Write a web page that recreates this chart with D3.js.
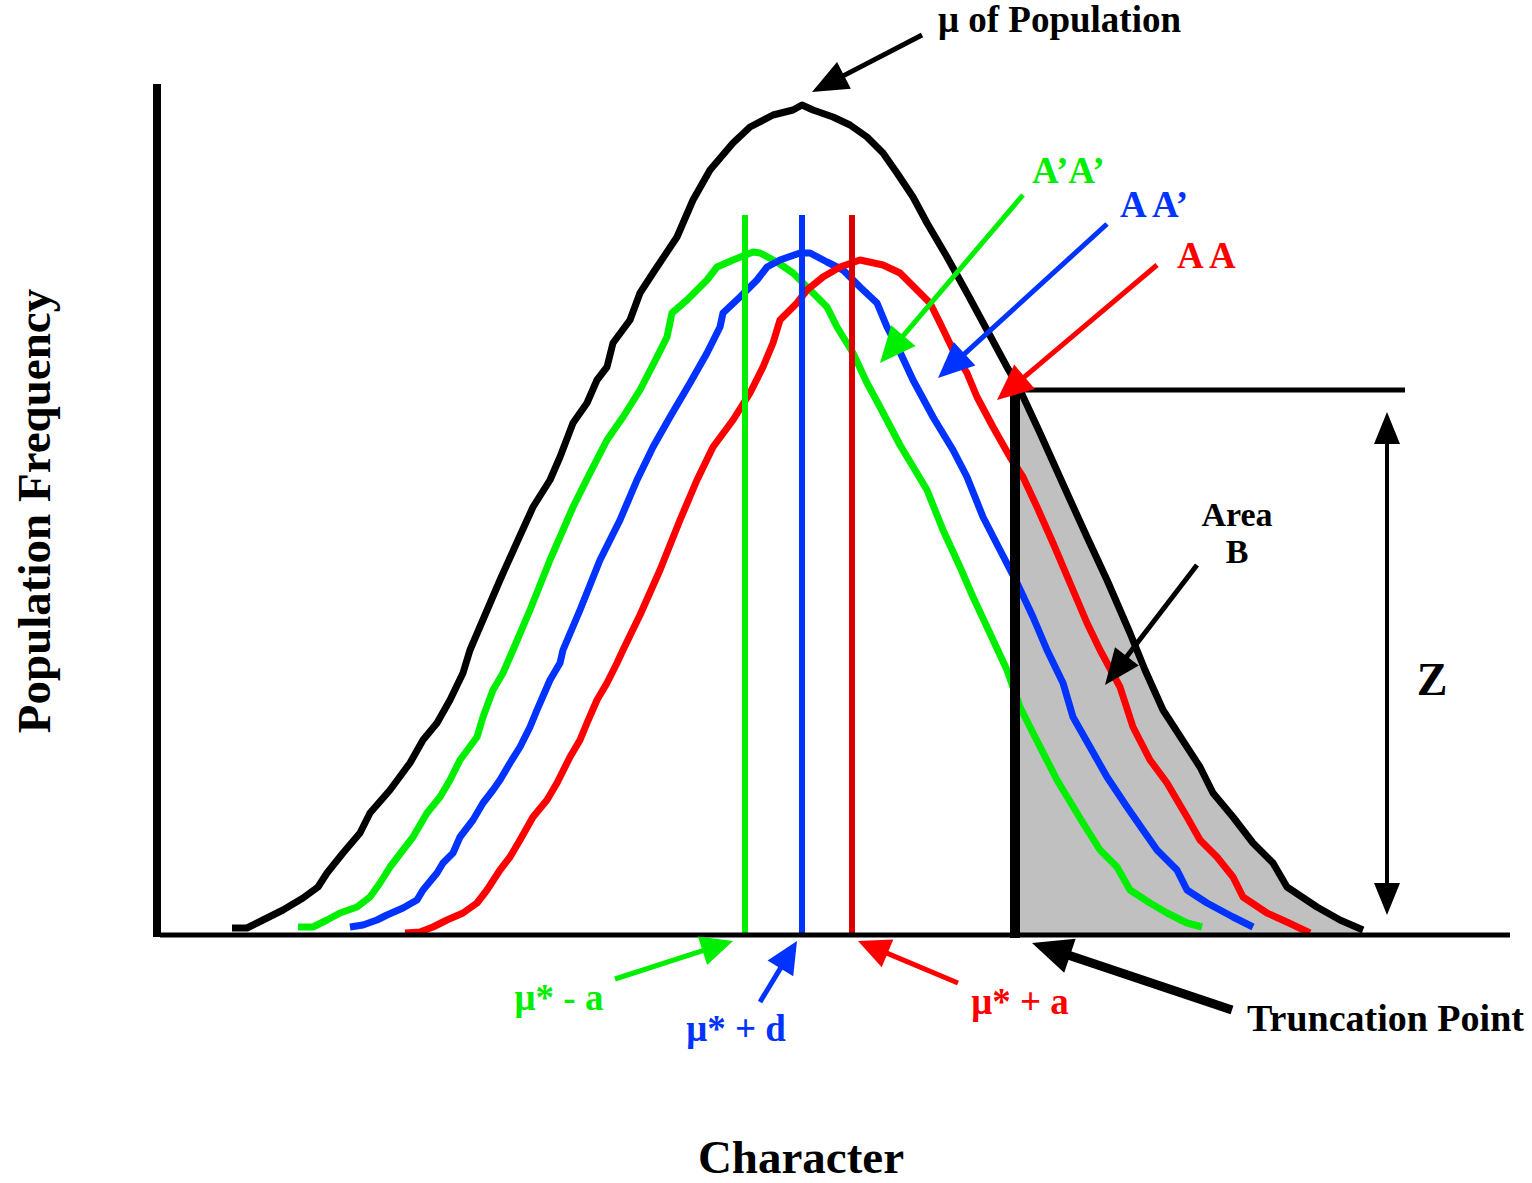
<!DOCTYPE html>
<html>
<head>
<meta charset="utf-8">
<script src="https://cdn.jsdelivr.net/npm/d3@7"></script>
<style>
  body { margin: 0; background: #fff; }
  text { font-family: "Liberation Serif", "Times New Roman", serif; font-weight: bold; }
</style>
</head>
<body>
<div id="chart"></div>
<script>
//Colores fijos
const COLOR_BLACK = '#000000',
    COLOR_GREEN = '#00ee00',
    COLOR_BLUE = '#0033ff',
    COLOR_RED = '#ff0000',
    COLOR_RED_DARK = '#dd0000',
    COLOR_AREA = '#c0c0c0';

//Datos (caracter, frecuencia)
const populationCurve = [
    [7.2,0.7],[8.7,0.7],[10.3,1.5],[12.3,2.5],[14.3,3.7],[15.8,4.8],[16.7,6.2],[18.3,8.2],[20.0,10.2],[21.0,12.2],
    [23.0,14.5],[25.0,17.2],[26.3,19.5],[27.7,21.2],[29.0,23.5],[30.3,26.2],[31.0,28.5],[32.5,32.0],[34.0,35.5],[35.8,39.5],
    [37.3,42.8],[39.0,45.5],[40.0,47.8],[41.3,51.2],[42.7,53.2],[43.7,55.5],[44.7,56.8],[45.3,59.2],[47.0,61.5],[48.0,64.2],
    [49.3,66.2],[51.7,69.8],[53.3,73.5],[55.0,76.5],[57.3,79.2],[59.0,80.8],[61.3,82.0],[63.3,82.5],[64.2,83.0],[65.3,82.5],
    [67.3,81.8],[69.0,81.0],[70.7,79.8],[72.3,78.2],[73.7,76.2],[75.3,73.8],[76.7,71.2],[78.7,67.8],[80.7,64.2],[82.7,60.5],
    [84.7,56.8],[86.0,54.5],[88.0,50.2],[90.7,44.2],[92.7,39.8],[94.7,35.5],[97.0,30.2],[98.5,26.5],[100.3,22.5],[104.0,16.8],
    [105.3,14.2],[107.3,11.8],[109.3,9.2],[111.3,7.2],[112.7,4.8],[115.7,2.8],[118.0,1.5],[120.3,0.5]
];

const curveApAp = [
    [13.8,0.8],[15.3,0.8],[16.7,1.5],[18.0,2.2],[19.7,2.8],[21.0,3.8],[22.0,5.2],[23.0,6.8],[24.3,8.5],[25.3,9.8],
    [26.7,12.2],[28.0,13.8],[29.0,15.5],[30.0,17.5],[31.7,19.8],[32.3,21.8],[33.3,24.5],[34.3,26.2],[35.3,28.5],[37.0,32.5],
    [39.0,37.5],[41.3,42.8],[43.0,46.2],[44.7,49.5],[46.3,51.8],[48.0,54.5],[49.7,57.8],[50.7,59.8],[51.2,62.2],[52.7,63.5],
    [54.7,65.5],[55.7,66.8],[57.3,67.5],[59.3,68.3],[60.0,68.2],[61.7,67.3],[63.3,66.2],[65.3,64.2],[66.7,62.8],[67.7,60.8],
    [69.3,58.2],[70.7,55.2],[72.0,52.8],[74.0,49.0],[76.7,44.5],[78.3,40.5],[80.0,36.8],[81.3,33.8],[82.7,30.8],[84.7,26.5],
    [86.0,22.8],[87.3,20.2],[89.7,15.5],[92.3,11.2],[94.0,8.5],[95.7,6.8],[97.0,4.5],[99.0,3.2],[100.7,2.2],[102.7,1.2],[104.2,0.8]
];

const curveAAp = [
    [19.0,0.8],[20.3,1.0],[21.7,1.5],[22.7,2.0],[24.3,2.7],[25.7,3.5],[26.3,4.5],[27.7,6.2],[28.3,7.2],[29.3,8.2],
    [30.0,9.8],[31.3,11.5],[32.3,13.2],[33.3,14.5],[34.0,15.5],[35.0,17.2],[36.0,18.8],[37.0,20.8],[37.7,22.5],[39.0,25.5],
    [40.0,27.2],[40.3,28.5],[42.0,32.5],[44.0,37.5],[46.0,41.5],[47.7,45.5],[49.3,48.8],[51.0,51.8],[53.0,55.2],[54.7,58.2],
    [56.0,60.8],[56.3,62.2],[58.0,63.8],[59.7,65.5],[60.7,66.8],[62.0,67.5],[64.0,68.2],[65.0,68.2],[66.7,67.3],[68.3,66.5],
    [70.0,64.8],[71.7,63.2],[72.7,60.8],[74.0,58.3],[75.3,55.5],[77.3,51.8],[79.3,48.5],[80.7,45.8],[82.3,41.8],[84.0,38.5],
    [85.7,35.2],[87.3,31.8],[88.7,28.5],[90.3,25.2],[91.3,21.8],[93.0,18.8],[94.7,15.8],[96.7,12.8],[98.3,10.5],[99.7,8.5],
    [101.7,6.5],[102.7,4.5],[104.7,3.2],[107.3,1.8],[109.3,0.8]
];

const curveAA = [
    [24.5,0.2],[26.0,0.3],[27.3,0.8],[28.7,1.5],[30.3,2.2],[31.7,3.2],[32.7,4.5],[34.0,6.5],[35.0,7.8],[36.0,9.5],
    [37.3,11.8],[38.7,13.5],[39.7,15.2],[41.0,17.8],[42.0,19.5],[42.7,21.2],[43.7,23.5],[44.7,25.2],[45.7,27.2],[46.3,28.5],
    [48.0,32.0],[50.0,36.5],[52.0,41.5],[53.7,45.5],[55.3,48.8],[57.3,51.5],[59.0,54.2],[60.3,56.8],[61.3,59.2],[62.0,61.5],
    [63.7,63.2],[64.7,64.5],[66.3,65.8],[68.0,66.8],[70.0,67.5],[72.3,67.0],[74.0,66.2],[75.7,64.5],[77.0,63.2],[78.0,61.2],
    [79.3,58.5],[80.7,56.2],[81.7,53.8],[83.3,50.8],[85.0,47.8],[86.3,45.8],[87.7,42.8],[89.3,39.2],[91.0,35.2],[92.7,31.2],
    [94.0,28.5],[96.0,24.8],[97.3,20.8],[99.0,17.5],[100.7,15.2],[102.7,11.8],[104.0,9.5],[105.7,7.8],[107.3,5.8],[108.3,3.8],
    [110.7,2.2],[112.9,1.2],[115.0,0.2]
];

//Medias de cada genotipo (A'A', AA', AA) y altura de sus lineas
const genotypeLabels = ['A\u2019A\u2019', 'A A\u2019', 'A A'];
const meanLabels = ['\u03bc* - a', '\u03bc* + d', '\u03bc* + a'];
const genotypeMeans = [58.5, 64.2, 69.2];
const meanLineTop = 72;

//Punto de truncamiento
const truncationPoint = 85.5;
const truncationHeight = 54.5;
const truncationLineEnd = 124.5;
const zArrow = [122.7, 52.3, 2.0];

let svg = d3.select('#chart')
    .append('svg')
    .attr('width', 1532)
    .attr('height', 1183);

let x = d3.scaleLinear()
    .domain([0, 135])
    .range([160, 1510]);

let y = d3.scaleLinear()
    .domain([0, 83])
    .range([935, 105]);

let line = d3.line()
    .x(function(d) { return x(d[0]); })
    .y(function(d) { return y(d[1]); });

let area = d3.area()
    .x(function(d) { return x(d[0]); })
    .y0(y(0))
    .y1(function(d) { return y(d[1]); });

//Area B (cola bajo la curva de la poblacion)
svg.append('clipPath')
    .attr('id', 'tail')
    .append('rect')
    .attr('x', x(truncationPoint))
    .attr('y', 0)
    .attr('width', 1532 - x(truncationPoint))
    .attr('height', y(0));

svg.append('path')
    .datum(populationCurve)
    .attr('clip-path', 'url(#tail)')
    .attr('fill', COLOR_AREA)
    .attr('d', area);

//Curvas de los genotipos
let genotypeColors = [COLOR_GREEN, COLOR_BLUE, COLOR_RED];
[curveApAp, curveAAp, curveAA].forEach(function(c, i) {
    svg.append('path')
        .datum(c)
        .attr('fill', 'none')
        .attr('stroke', genotypeColors[i])
        .attr('stroke-width', 7)
        .attr('stroke-linejoin', 'round')
        .attr('d', line);
});

svg.append('path')
    .datum(populationCurve)
    .attr('fill', 'none')
    .attr('stroke', COLOR_BLACK)
    .attr('stroke-width', 7)
    .attr('stroke-linejoin', 'round')
    .attr('d', line);

//Lineas de las medias
let meanColors = [COLOR_GREEN, COLOR_BLUE, COLOR_RED_DARK];
svg.selectAll('.mean')
    .data(genotypeMeans)
    .enter()
    .append('line')
    .attr('class', 'mean')
    .attr('x1', function(d) { return x(d); })
    .attr('x2', function(d) { return x(d); })
    .attr('y1', y(meanLineTop))
    .attr('y2', y(0))
    .attr('stroke', function(d, i) { return meanColors[i]; })
    .attr('stroke-width', 6);

//Ejes
svg.append('line')
    .attr('x1', 157).attr('x2', 157)
    .attr('y1', 84).attr('y2', 937)
    .attr('stroke', COLOR_BLACK).attr('stroke-width', 8);

svg.append('line')
    .attr('x1', 160).attr('x2', x(135))
    .attr('y1', y(0)).attr('y2', y(0))
    .attr('stroke', COLOR_BLACK).attr('stroke-width', 5);

//Truncamiento
svg.append('line')
    .attr('x1', x(truncationPoint)).attr('x2', x(truncationPoint))
    .attr('y1', y(truncationHeight) - 2).attr('y2', y(0) + 3)
    .attr('stroke', COLOR_BLACK).attr('stroke-width', 10);

svg.append('line')
    .attr('x1', x(truncationPoint) - 5).attr('x2', x(truncationLineEnd))
    .attr('y1', y(truncationHeight)).attr('y2', y(truncationHeight))
    .attr('stroke', COLOR_BLACK).attr('stroke-width', 5);

//Flechas
function arrow(x1, y1, x2, y2, color, lw, hl, hw) {
    let dx = x2 - x1, dy = y2 - y1, len = Math.hypot(dx, dy);
    let ux = dx / len, uy = dy / len;
    let bx = x2 - ux * hl, by = y2 - uy * hl;
    svg.append('line')
        .attr('x1', x1).attr('y1', y1)
        .attr('x2', bx + ux * 2).attr('y2', by + uy * 2)
        .attr('stroke', color).attr('stroke-width', lw);
    svg.append('polygon')
        .attr('points', [[x2, y2], [bx - uy * hw / 2, by + ux * hw / 2], [bx + uy * hw / 2, by - ux * hw / 2]].join(' '))
        .attr('fill', color);
}

arrow(922, 35, 812, 92, COLOR_BLACK, 5, 36, 30);

let labelArrowTails = [[1023, 195], [1107, 224], [1157, 265]];
let labelArrowTips = [[880, 363], [938, 378], [997, 400]];
labelArrowTails.forEach(function(t, i) {
    arrow(t[0], t[1], labelArrowTips[i][0], labelArrowTips[i][1], genotypeColors[i], 5, 36, 32);
});

let meanArrowTails = [[615, 979], [760, 1002], [958, 983]];
meanArrowTails.forEach(function(t, i) {
    let tipX = x(genotypeMeans[i]) + [-12, -5, 6][i];
    arrow(t[0], t[1], tipX, 941, genotypeColors[i], 5, 32, 30);
});

arrow(1232, 1010, 1032, 943, COLOR_BLACK, 9, 40, 36);
arrow(1197, 565, 1105, 685, COLOR_BLACK, 5, 36, 30);

//Flecha doble Z
arrow(x(zArrow[0]), y(27), x(zArrow[0]), y(zArrow[1]), COLOR_BLACK, 4, 32, 26);
arrow(x(zArrow[0]), y(27), x(zArrow[0]), y(zArrow[2]), COLOR_BLACK, 4, 32, 26);

//Textos
svg.append('text')
    .attr('x', 938).attr('y', 32)
    .attr('font-size', 37)
    .text('\u03bc of Population');

let labelPos = [[1032, 183], [1120, 217], [1177, 268]];
genotypeLabels.forEach(function(t, i) {
    svg.append('text')
        .attr('x', labelPos[i][0]).attr('y', labelPos[i][1])
        .attr('font-size', 37)
        .attr('fill', genotypeColors[i])
        .text(t);
});

let meanLabelPos = [[559, 1010], [736, 1041], [1020, 1014]];
meanLabels.forEach(function(t, i) {
    svg.append('text')
        .attr('x', meanLabelPos[i][0]).attr('y', meanLabelPos[i][1])
        .attr('text-anchor', 'middle')
        .attr('font-size', 37)
        .attr('fill', genotypeColors[i])
        .text(t);
});

svg.append('text')
    .attr('x', 1247).attr('y', 1031)
    .attr('font-size', 38)
    .text('Truncation Point');

svg.append('text')
    .attr('x', 1237).attr('y', 526)
    .attr('text-anchor', 'middle')
    .attr('font-size', 34)
    .text('Area');

svg.append('text')
    .attr('x', 1237).attr('y', 563)
    .attr('text-anchor', 'middle')
    .attr('font-size', 34)
    .text('B');

svg.append('text')
    .attr('x', 1432).attr('y', 695)
    .attr('text-anchor', 'middle')
    .attr('font-size', 46)
    .text('Z');

svg.append('text')
    .attr('x', 801).attr('y', 1173)
    .attr('text-anchor', 'middle')
    .attr('font-size', 47)
    .text('Character');

svg.append('text')
    .attr('transform', 'translate(50,511) rotate(-90)')
    .attr('text-anchor', 'middle')
    .attr('font-size', 47)
    .text('Population Frequency');
</script>
</body>
</html>
